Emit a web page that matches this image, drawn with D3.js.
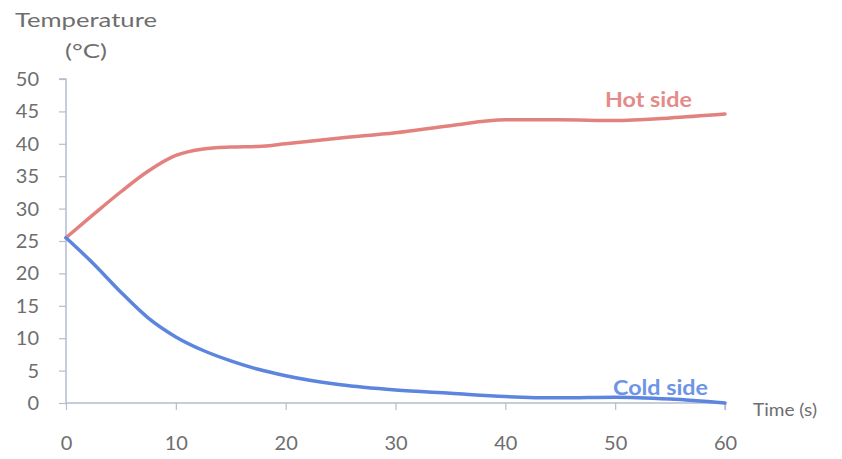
<!DOCTYPE html>
<html>
<head>
<meta charset="utf-8">
<script src="https://cdn.jsdelivr.net/npm/d3@7"></script>
<style>
  body { margin: 0; background: #fff; }
  svg text { font-family: Lato, "Open Sans", sans-serif; }
</style>
</head>
<body>
<div class="canvas"></div>
<script>
// readings
var times = [0, 2.5, 5, 7.5, 10, 12.5, 15, 17.5, 20, 25, 30, 35, 40, 45, 50, 55, 60];
var hotSide = [25.5, 29.1, 32.6, 35.8, 38.2, 39.2, 39.5, 39.6, 40, 40.9, 41.7, 42.8, 43.7, 43.7, 43.6, 44, 44.6];
var coldSide = [25.5, 21.5, 17.1, 13.1, 10.2, 8.1, 6.5, 5.2, 4.2, 2.8, 2, 1.5, 1, 0.8, 0.9, 0.6, 0];
var xTicks = [0, 10, 20, 30, 40, 50, 60];
var yTicks = [0, 5, 10, 15, 20, 25, 30, 35, 40, 45, 50];

var width = 842;
var height = 459;
var textColour = '#6e6e6e';
var axisColour = '#b4bccd';

var svg = d3.select('.canvas')
  .append('svg')
  .attr('width', width)
  .attr('height', height);

var xscale = d3.scaleLinear().domain([0, 60]).range([66, 725]);
var yscale = d3.scaleLinear().domain([0, 50]).range([403, 79]);

// y axis
var yaxis = d3.axisLeft(yscale).tickValues(yTicks).tickSize(7).tickPadding(20);
var gy = svg.append('g')
  .attr('transform', 'translate(' + xscale(0) + ',0)')
  .call(yaxis);

// x axis
var xaxis = d3.axisBottom(xscale).tickValues(xTicks).tickSize(7).tickPadding(26);
var gx = svg.append('g')
  .attr('transform', 'translate(0,' + yscale(0) + ')')
  .call(xaxis);

[gx, gy].forEach(function(g) {
  g.select('.domain').attr('stroke', axisColour).attr('stroke-width', 1.5);
  g.selectAll('.tick line').attr('stroke', axisColour).attr('stroke-width', 1.2);
  g.selectAll('.tick text')
    .attr('fill', textColour)
    .style('font-size', '20px')
    .style('font-family', 'Lato, sans-serif');
});
// keep the x domain from leaving stubs past the ends
gx.select('.domain').attr('d', 'M' + xscale(0) + ',0H' + xscale(60) + 'V7');
gy.select('.domain').attr('d', 'M-7,' + yscale(50) + 'H0V' + yscale(0));

var rows = times.map(function(t, i) {
  return { t: t, hot: hotSide[i], cold: coldSide[i] };
});

var hotLine = d3.line()
  .x(function(d) { return xscale(d.t); })
  .y(function(d) { return yscale(d.hot); })
  .curve(d3.curveMonotoneX);

var coldLine = d3.line()
  .x(function(d) { return xscale(d.t); })
  .y(function(d) { return yscale(d.cold); })
  .curve(d3.curveMonotoneX);

svg.append('path')
  .datum(rows)
  .attr('d', hotLine)
  .attr('fill', 'none')
  .attr('stroke', '#e3817f')
  .attr('stroke-width', 3.5)
  .attr('stroke-linecap', 'round');

svg.append('path')
  .datum(rows)
  .attr('d', coldLine)
  .attr('fill', 'none')
  .attr('stroke', '#5b85df')
  .attr('stroke-width', 3.5)
  .attr('stroke-linecap', 'round');

// series labels
svg.append('text')
  .attr('x', 605).attr('y', 107)
  .attr('textLength', 87).attr('lengthAdjust', 'spacingAndGlyphs')
  .attr('fill', '#e48b8a')
  .style('font-size', '21px')
  .style('font-weight', 'bold')
  .text('Hot side');

svg.append('text')
  .attr('x', 613).attr('y', 395)
  .attr('textLength', 95).attr('lengthAdjust', 'spacingAndGlyphs')
  .attr('fill', '#6d94e6')
  .style('font-size', '21px')
  .style('font-weight', 'bold')
  .text('Cold side');

// axis titles
svg.append('text')
  .attr('x', 15).attr('y', 27)
  .attr('textLength', 142).attr('lengthAdjust', 'spacingAndGlyphs')
  .attr('fill', textColour)
  .style('font-size', '19px')
  .text('Temperature');

svg.append('text')
  .attr('x', 65).attr('y', 58)
  .attr('textLength', 42).attr('lengthAdjust', 'spacingAndGlyphs')
  .attr('fill', textColour)
  .style('font-size', '19px')
  .text('(°C)');

svg.append('text')
  .attr('x', 753).attr('y', 416)
  .attr('textLength', 64).attr('lengthAdjust', 'spacingAndGlyphs')
  .attr('fill', textColour)
  .style('font-size', '17px')
  .text('Time (s)');
</script>
</body>
</html>
